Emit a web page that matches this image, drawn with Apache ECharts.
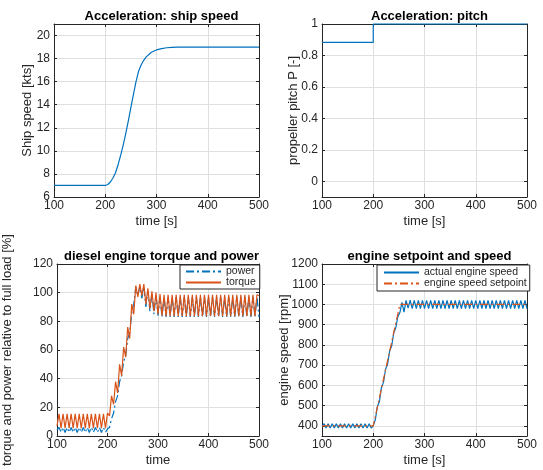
<!DOCTYPE html>
<html><head><meta charset="utf-8">
<script src="https://cdn.jsdelivr.net/npm/echarts@6/dist/echarts.min.js"></script>
<style>html,body{margin:0;padding:0;background:#fff}#c{width:543px;height:470px}</style>
</head><body><div id="c"></div>
<script>
// ---- data ----
const shipTime  = [100,200,205,210,215,220,225,230,235,240,245,250,255,260,265,270,275,280,290,300,310,320,330,340,360,400,450,500];
const shipSpeed = [7.0,7.0,7.08,7.3,7.65,8.1,8.8,9.6,10.5,11.5,12.6,13.75,14.9,16.0,16.9,17.45,17.85,18.15,18.55,18.75,18.87,18.94,18.98,19.0,19.0,19.0,19.0,19.0];

const pitchTime  = [100,200,200,500];
const pitchValue = [0.883,0.883,1,1];

const oscTime = [100,104,108,112,116,120,124,128,132,136,140,144,148,152,156,160,164,168,172,176,180,184,188,192,196,
  200,204,208,212,216,220,224,228,232,236,240,244,248,252,256,260,264,268,272,276,280,284,288,292,296,
  300,304,308,312,316,320,324,328,332,336,340,344,348,352,356,360,364,368,372,376,380,384,388,392,396,
  400,404,408,412,416,420,424,428,432,436,440,444,448,452,456,460,464,468,472,476,480,484,488,492,496,500];

const powerPct = [4,6,2.5,6,2.5,6,2.5,6,2.5,6,2.5,6,2.5,6,2.5,6,2.5,6,2.5,6,2.5,6,2.5,6,2.5,
  5,6,12,16,24,28,38,42,52,56,68,72,86,92,104,98,104,96,104,90,101,87,99,85,98,
  84,97,83,97,83,97,83,97,83,97,83,97,83,97,83,97,83,97,83,97,83,97,83,97,83,
  97,83,97,83,97,83,97,83,97,83,97,83,97,83,97,83,97,83,97,83,97,83,97,83,97,83];

const torquePct = [7,15.5,5.5,15.5,5.5,15.5,5.5,15.5,5.5,15.5,5.5,15.5,5.5,15.5,5.5,15.5,5.5,15.5,5.5,15.5,5.5,15.5,5.5,15.5,5.5,
  16,14,28,22,38,30,50,42,62,55,76,68,92,85,105,97,106,98,106,92,103,89,101,87,100,
  85,99,84,98.5,83.5,98.5,83.5,98.5,83.5,98.5,83.5,98.5,83.5,98.5,83.5,98.5,83.5,98.5,83.5,98.5,83.5,98.5,83.5,98.5,83.5,
  98.5,83.5,98.5,83.5,98.5,83.5,98.5,83.5,98.5,83.5,98.5,83.5,98.5,83.5,98.5,83.5,98.5,83.5,98.5,83.5,98.5,83.5,98.5,83.5,98.5,98];

const engineSpeed = [400,411,389,411,389,411,389,411,389,411,389,411,389,411,389,411,389,411,389,411,389,411,389,411,389,
  400,430,495,520,590,615,680,705,770,795,860,885,940,960,1010,962,1020,982,1021,980,1020,980,1020,980,1020,
  980,1020,980,1020,980,1020,980,1020,980,1020,980,1020,980,1020,980,1020,980,1020,980,1020,980,1020,980,1020,980,
  1020,980,1020,980,1020,980,1020,980,1020,980,1020,980,1020,980,1020,980,1020,980,1020,980,1020,980,1020,980,1020,980];

const setpointTime  = [100,200,252,500];
const setpointSpeed = [400,400,1000,1000];

const titles = ['Acceleration: ship speed','Acceleration: pitch','diesel engine torque and power','engine setpoint and speed'];
const xNames = ['time [s]','time [s]','time','time [s]'];
const yNames = ['Ship speed [kts]','propeller pitch P [-]','torque and power relative to full load [%]','engine speed [rpm]'];

// ---- layout / style ----
const C = '#262626', GRID = '#dfdfdf', BLUE = '#0072BD', ORANGE = '#D95319';
const FONT = "'Liberation Sans', Arial, sans-serif";
const grids = [
  {left:54, top:24, width:205, height:173},
  {left:322, top:24, width:205, height:173},
  {left:54, top:264, width:205, height:172},
  {left:322, top:264, width:205, height:172}
];
const yCfg = [
  {min:6, max:21, interval:2, gap:20, hideMax:true},
  {min:-0.1, max:1, splitNumber:5, gap:22, hideMin:true},
  {min:0, max:120, interval:20, gap:43},
  {min:350, max:1200, splitNumber:8, gap:31, hideMin:true}
];
const zip = (a,b) => a.map((v,i)=>[v,b[i]]);
const plain = v => String(Math.round(v*1000)/1000);

const xAxis = [], yAxis = [], title = [];
grids.forEach((g,i)=>{
  title.push({text:titles[i], left:g.left+g.width/2, top:g.top-19, textAlign:'center',
    textStyle:{fontSize:13, fontWeight:'bold', color:'#000', fontFamily:FONT}});
  xAxis.push({type:'value', gridIndex:i, min:100, max:500, interval:100, position:'bottom',
    name:xNames[i], nameLocation:'middle', nameGap:18, nameMoveOverlap:false,
    nameTextStyle:{fontSize:13, color:C, fontFamily:FONT},
    axisLine:{show:true, onZero:false, lineStyle:{color:C, width:1}},
    axisTick:{inside:true, length:3, lineStyle:{color:C}},
    axisLabel:{fontSize:12, color:C, margin:3, fontFamily:FONT, formatter:plain},
    splitLine:{show:true, lineStyle:{color:GRID, width:1}}});
  xAxis.push({type:'value', gridIndex:i, min:100, max:500, interval:100, position:'top',
    axisLine:{show:true, onZero:false, lineStyle:{color:C, width:1}},
    axisTick:{inside:true, length:3, lineStyle:{color:C}},
    axisLabel:{show:false}, splitLine:{show:false}});
  const yc = yCfg[i];
  const base = {type:'value', gridIndex:i, min:yc.min, max:yc.max};
  if (yc.interval) base.interval = yc.interval; else base.splitNumber = yc.splitNumber;
  yAxis.push(Object.assign({}, base, {position:'left',
    name:yNames[i], nameLocation:'middle', nameGap:yc.gap, nameMoveOverlap:false,
    nameTextStyle:{fontSize:13, color:C, fontFamily:FONT},
    axisLine:{show:true, onZero:false, lineStyle:{color:C, width:1}},
    axisTick:{inside:true, length:3, lineStyle:{color:C}},
    axisLabel:{fontSize:12, color:C, margin:4, fontFamily:FONT, formatter:plain,
      showMinLabel:!yc.hideMin, showMaxLabel:!yc.hideMax},
    splitLine:{show:true, lineStyle:{color:GRID, width:1}}}));
  yAxis.push(Object.assign({}, base, {position:'right',
    axisLine:{show:true, onZero:false, lineStyle:{color:C, width:1}},
    axisTick:{inside:true, length:3, lineStyle:{color:C}},
    axisLabel:{show:false}, splitLine:{show:false}}));
});

const line = (name, gi, data, color, type, extra) => Object.assign({
  type:'line', name, xAxisIndex:gi*2, yAxisIndex:gi*2, data, symbol:'none', animation:false,
  lineStyle:{color, width:1.2, type}, itemStyle:{color}}, extra||{});

const dashDot = [8,3,2,3];
const series = [
  line('ship speed', 0, zip(shipTime, shipSpeed), BLUE, 'solid'),
  line('pitch', 1, zip(pitchTime, pitchValue), BLUE, 'solid', {clip:false}),
  line('power', 2, zip(oscTime, powerPct), BLUE, dashDot),
  line('torque', 2, zip(oscTime, torquePct), ORANGE, 'solid'),
  line('actual engine speed', 3, zip(oscTime, engineSpeed), BLUE, 'solid'),
  line('engine speed setpoint', 3, zip(setpointTime, setpointSpeed), ORANGE, dashDot)
];

const legendBase = {orient:'vertical', itemWidth:35, itemHeight:10, itemGap:0,
  borderColor:C, borderWidth:1, borderRadius:0, backgroundColor:'#fff', selectedMode:false,
  itemStyle:{opacity:0},
  textStyle:{fontSize:10.5, color:C, fontFamily:FONT, lineHeight:10}};
const legend = [
  Object.assign({}, legendBase, {left:180, top:265, padding:[1,4,1,5], data:['power','torque']}),
  Object.assign({}, legendBase, {left:377, top:265, padding:[2,3,2,6], data:['actual engine speed','engine speed setpoint']})
];

const chart = echarts.init(document.getElementById('c'), null, {renderer:'canvas'});
chart.setOption({backgroundColor:'#fff', animation:false, title, grid:grids, xAxis, yAxis, legend, series});
</script></body></html>
